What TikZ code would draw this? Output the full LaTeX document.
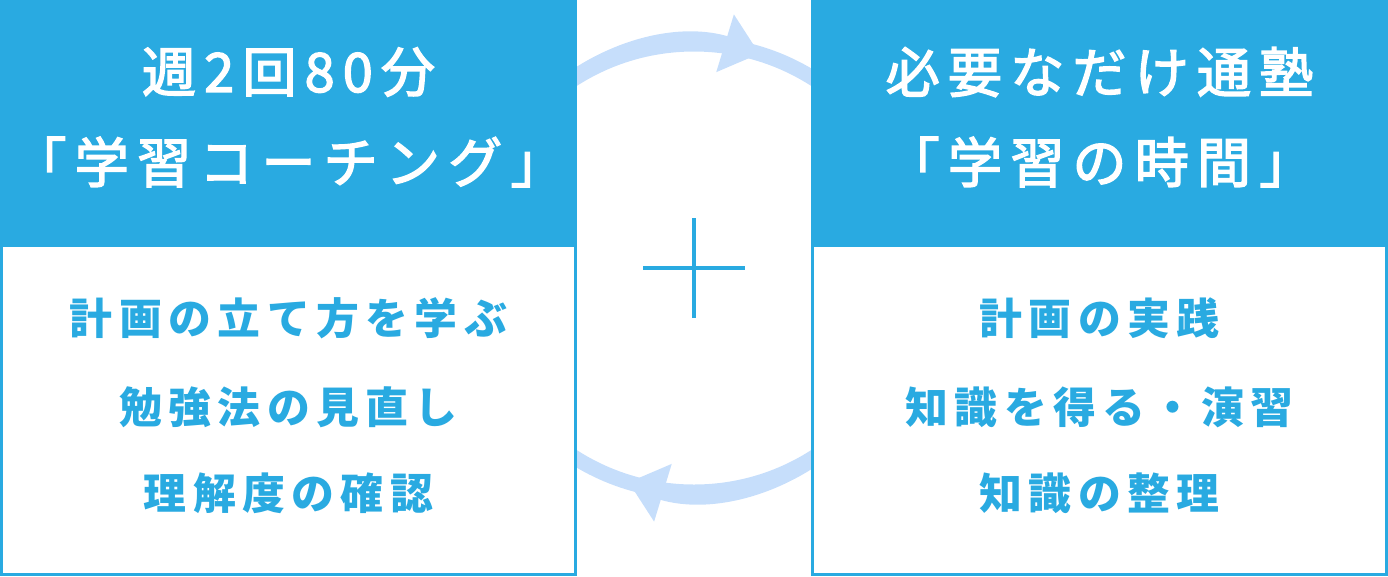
\documentclass[tikz,border=0pt]{standalone}
\usepackage{fontspec}
\usetikzlibrary{arrows.meta}
\newfontfamily\jphead{Noto Sans CJK JP}[LetterSpace=15,FakeBold=2.6]
\newfontfamily\jpbody{Noto Sans CJK JP}[LetterSpace=15]
\definecolor{coachblue}{HTML}{29AAE1}
\definecolor{cyclelight}{HTML}{C6DEFB}

\begin{document}
\begin{tikzpicture}[
    headtext/.style={text=white, font=\jphead\fontsize{15.4}{18}\selectfont},
    bodytext/.style={text=coachblue, font=\jpbody\bfseries\fontsize{12.2}{15}\selectfont},
    cycleline/.style={cyclelight, line width=0.15cm},
    cycletip/.style={cycleline, -{Triangle[length=3.6mm,width=5.8mm]}}
  ]
  \useasboundingbox (0,0) rectangle (13.88,5.76);

  % Draw the light cycle behind the two boxes
  \draw[cycleline] (6.94,3.08) circle (2.24);
  \draw[cycletip] (6.94,3.08) ++(150:2.24) arc[start angle=150, end angle=73, radius=2.24];
  \draw[cycletip] (6.94,3.08) ++(-30:2.24) arc[start angle=-30, end angle=-107, radius=2.24];

  % Draw the two boxes
  \draw[coachblue, line width=0.03cm, fill=white] (0.015,0.015) rectangle (5.755,3.31);
  \draw[coachblue, line width=0.03cm, fill=white] (8.125,0.015) rectangle (13.865,3.31);
  \fill[coachblue] (0,3.31) rectangle (5.77,5.76);
  \fill[coachblue] (8.11,3.31) rectangle (13.88,5.76);

  % Add the plus sign
  \draw[coachblue, line width=0.04cm] (6.43,3.08) -- (7.45,3.08);
  \draw[coachblue, line width=0.04cm] (6.94,2.58) -- (6.94,3.58);

  % Add headings
  \node[headtext] (coachA) at (2.885,5.04) {週2回80分};
  \node[headtext] (coachB) at (2.885,4.14) {「学習コーチング」};
  \node[headtext] (timeA) at (10.995,5.04) {必要なだけ通塾};
  \node[headtext] (timeB) at (10.995,4.14) {「学習の時間」};

  % Add the items of each box
  \node[bodytext] (planA) at (2.885,2.58) {計画の立て方を学ぶ};
  \node[bodytext] (methodA) at (2.885,1.69) {勉強法の見直し};
  \node[bodytext] (checkA) at (2.885,0.83) {理解度の確認};
  \node[bodytext] (planB) at (10.995,2.58) {計画の実践};
  \node[bodytext] (practiceB) at (10.995,1.69) {知識を得る・演習};
  \node[bodytext] (sortB) at (10.995,0.83) {知識の整理};
\end{tikzpicture}
\end{document}
